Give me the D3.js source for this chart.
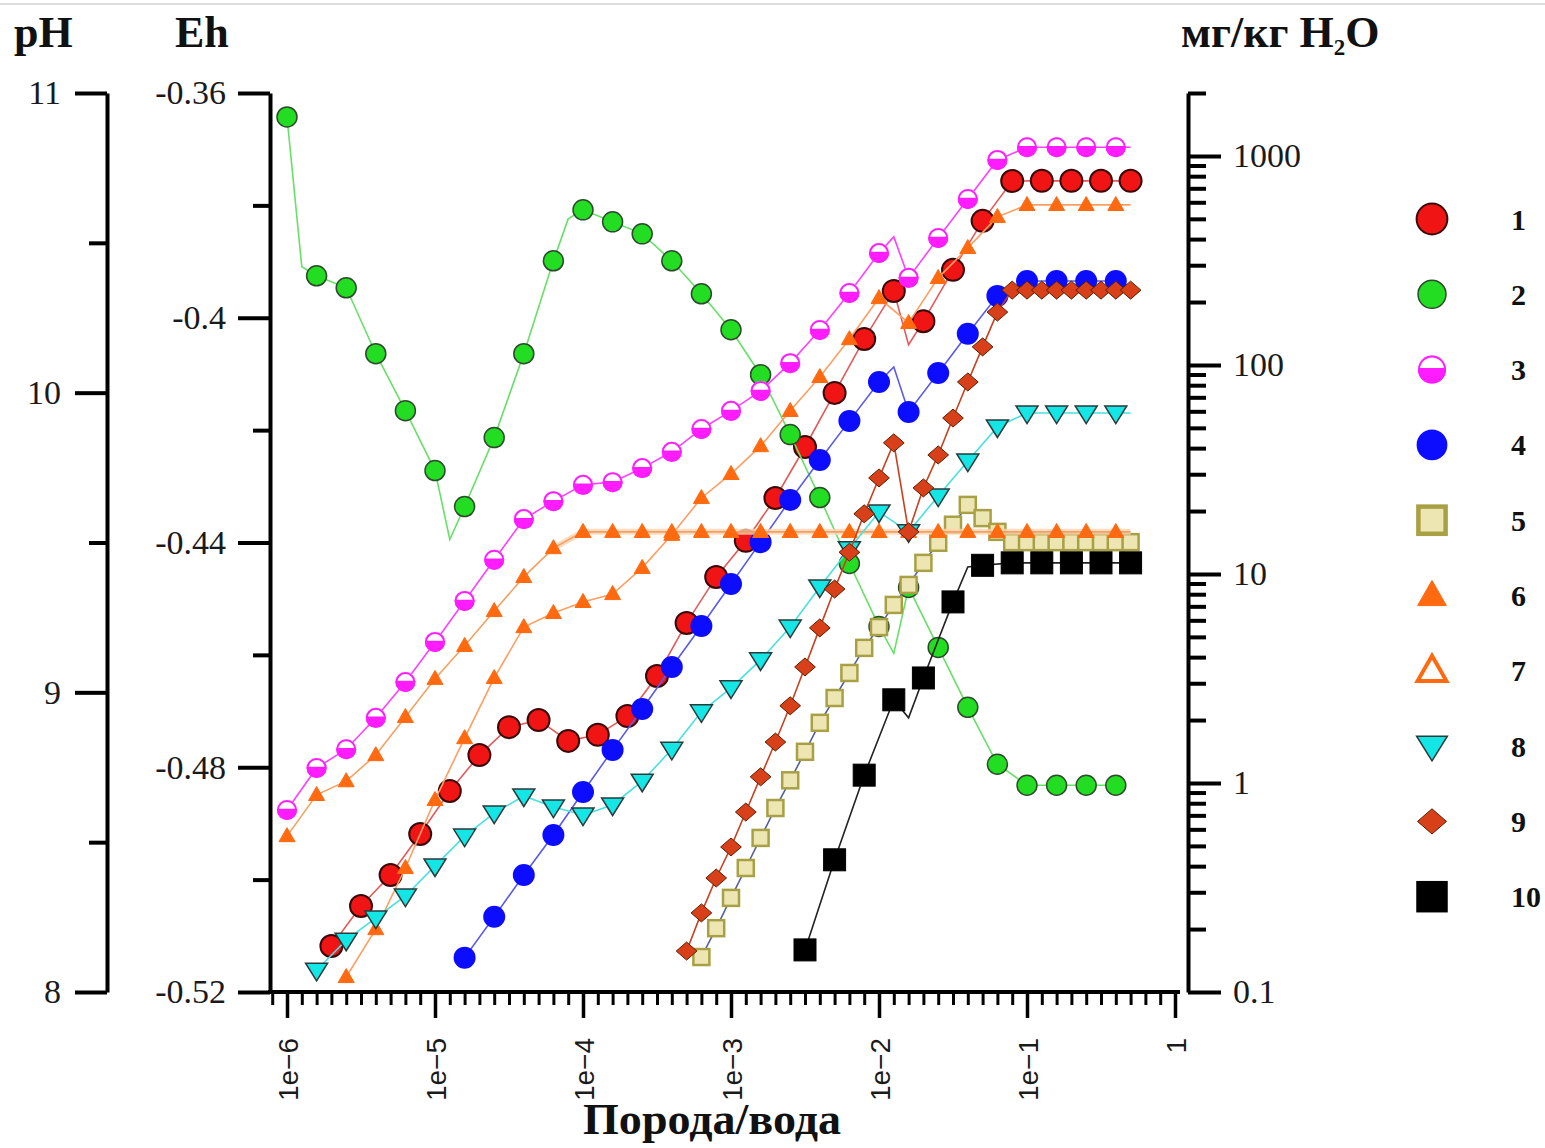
<!DOCTYPE html>
<html><head><meta charset="utf-8">
<script src="https://cdn.jsdelivr.net/npm/d3@7"></script>
<style>body{margin:0;background:#fff}</style>
</head><body>
<svg id="c" width="1545" height="1148"></svg>
<script>
// ---------- DATA (x given as log10 of Порода/вода ratio) ----------
const ratioTicks = [1e-6, 1e-5, 1e-4, 1e-3, 1e-2, 1e-1, 1];
const ratioTickLabels = ["1e\u22126", "1e\u22125", "1e\u22124", "1e\u22123", "1e\u22122", "1e\u22121", "1"];
const phTicks = [8, 9, 10, 11];
const phMinor = [8.5, 9.5, 10.5];
const ehTicks = [-0.52, -0.48, -0.44, -0.40, -0.36];
const ehMinor = [-0.50, -0.46, -0.42, -0.38];
const concTicks = [0.1, 1, 10, 100, 1000];
const concTickLabels = ["0.1", "1", "10", "100", "1000"];
const legendLabels = ["1", "2", "3", "4", "5", "6", "7", "8", "9", "10"];

// series 1 (mg/kg)
const s1 = [[-5.7,0.166],[-5.5,0.258],[-5.3,0.363],[-5.1,0.570],[-4.9,0.916],[-4.7,1.36],[-4.5,1.85],[-4.3,2.00],[-4.1,1.59],[-3.9,1.70],[-3.7,2.09],[-3.5,3.25],[-3.3,5.83],[-3.1,9.68],[-2.9,14.4],[-2.7,23.1],[-2.5,40.5],[-2.3,73.5],[-2.1,133],[-1.9,226],[-1.7,162],[-1.5,285],[-1.3,489],[-1.1,759],[-0.9,760],[-0.7,760],[-0.5,760],[-0.3,760]];
const s1Line = [[-1.8,125]];
// series 2 (pH)
const s2 = [[-6.0,10.92],[-5.8,10.39],[-5.6,10.35],[-5.4,10.13],[-5.2,9.94],[-5.0,9.74],[-4.8,9.62],[-4.6,9.85],[-4.4,10.13],[-4.2,10.44],[-4.0,10.61],[-3.8,10.57],[-3.6,10.53],[-3.4,10.44],[-3.2,10.33],[-3.0,10.21],[-2.8,10.06],[-2.6,9.86],[-2.4,9.65],[-2.2,9.43],[-2.0,9.22],[-1.8,9.35],[-1.6,9.15],[-1.4,8.95],[-1.2,8.76],[-1.0,8.69],[-0.8,8.69],[-0.6,8.69],[-0.4,8.69]];
const s2Line = [[-5.9,10.42],[-4.9,9.51],[-4.1,10.58],[-1.9,9.13]];
// series 3
const s3 = [[-6.0,0.743],[-5.8,1.18],[-5.6,1.45],[-5.4,2.05],[-5.2,3.04],[-5.0,4.73],[-4.8,7.43],[-4.6,11.7],[-4.4,18.3],[-4.2,22.3],[-4.0,26.7],[-3.8,27.5],[-3.6,32.1],[-3.4,38.4],[-3.2,49.4],[-3.0,60.3],[-2.8,75.1],[-2.6,102],[-2.4,147],[-2.2,221],[-2.0,343],[-1.8,261],[-1.6,405],[-1.4,622],[-1.2,957],[-1.0,1100],[-0.8,1100],[-0.6,1100],[-0.4,1100]];
const s3Line = [[-1.9,410],[-0.3,1100]];
// series 4
const s4 = [[-4.8,0.146],[-4.6,0.229],[-4.4,0.363],[-4.2,0.564],[-4.0,0.905],[-3.8,1.44],[-3.6,2.26],[-3.4,3.59],[-3.2,5.64],[-3.0,8.96],[-2.8,14.2],[-2.6,22.6],[-2.4,35.1],[-2.2,54.0],[-2.0,82.9],[-1.8,59.6],[-1.6,91.6],[-1.4,141],[-1.2,214],[-1.0,252],[-0.8,252],[-0.6,252],[-0.4,252]];
const s4Line = [[-1.9,97.8]];
// series 5
const s5 = [[-3.2,0.147],[-3.1,0.202],[-3.0,0.282],[-2.9,0.392],[-2.8,0.546],[-2.7,0.759],[-2.6,1.03],[-2.5,1.41],[-2.4,1.94],[-2.3,2.55],[-2.2,3.36],[-2.1,4.43],[-2.0,5.57],[-1.9,7.11],[-1.8,8.86],[-1.7,11.3],[-1.6,14.1],[-1.5,17.2],[-1.4,21.4],[-1.3,18.5],[-1.2,15.9],[-1.1,14.2],[-1.0,14.2],[-0.9,14.2],[-0.8,14.2],[-0.7,14.2],[-0.6,14.2],[-0.5,14.2],[-0.4,14.2],[-0.3,14.2]];
const s5Line = [];
// series 6
const s6 = [[-5.6,0.118],[-5.4,0.200],[-5.2,0.392],[-5.0,0.830],[-4.8,1.64],[-4.6,3.18],[-4.4,5.57],[-4.2,6.51],[-4.0,7.35],[-3.8,8.02],[-3.6,10.7],[-3.4,15.4],[-3.2,23.1],[-3.0,30.1],[-2.8,40.9],[-2.6,60.3],[-2.4,87.6],[-2.2,133],[-2.0,209],[-1.8,159],[-1.6,261],[-1.4,363],[-1.2,511],[-1.0,583],[-0.8,583],[-0.6,583],[-0.4,583]];
const s6Line = [[-0.3,583]];
// series 7
const s7 = [[-6.0,0.557],[-5.8,0.877],[-5.6,1.02],[-5.4,1.36],[-5.2,2.07],[-5.0,3.15],[-4.8,4.53],[-4.6,6.65],[-4.4,9.68],[-4.2,13.3],[-4.0,15.9],[-3.8,15.9],[-3.6,15.9],[-3.4,15.9],[-3.2,15.9],[-3.0,15.9],[-2.8,15.9],[-2.6,15.9],[-2.4,15.9],[-2.2,15.9],[-2.0,15.9],[-1.8,15.9],[-1.6,15.9],[-1.4,15.9],[-1.2,15.9],[-1.0,15.9],[-0.8,15.9],[-0.6,15.9],[-0.4,15.9]];
const s7Line = [[-0.3,15.9]];
// series 8
const s8 = [[-5.8,0.127],[-5.6,0.177],[-5.4,0.226],[-5.2,0.288],[-5.0,0.401],[-4.8,0.557],[-4.6,0.718],[-4.4,0.867],[-4.2,0.767],[-4.0,0.703],[-3.8,0.785],[-3.6,1.02],[-3.4,1.45],[-3.2,2.19],[-3.0,2.85],[-2.8,3.88],[-2.6,5.57],[-2.4,8.67],[-2.2,13.2],[-2.0,19.8],[-1.8,15.9],[-1.6,23.6],[-1.4,34.7],[-1.2,50.5],[-1.0,58.9],[-0.8,58.9],[-0.6,58.9],[-0.4,58.9]];
const s8Line = [[-0.3,58.9]];
// series 9
const s9 = [[-3.3,0.157],[-3.2,0.239],[-3.1,0.351],[-3.0,0.494],[-2.9,0.726],[-2.8,1.07],[-2.7,1.57],[-2.6,2.34],[-2.5,3.59],[-2.4,5.52],[-2.3,8.47],[-2.2,12.7],[-2.1,19.4],[-2.0,28.8],[-1.9,42.4],[-1.8,15.9],[-1.7,25.8],[-1.6,37.1],[-1.5,55.7],[-1.4,82.9],[-1.3,122],[-1.2,179],[-1.1,228],[-1.0,228],[-0.9,228],[-0.8,228],[-0.7,228],[-0.6,228],[-0.5,228],[-0.4,228],[-0.3,228]];
const s9Line = [];
// series 10
const s10 = [[-2.5,0.159],[-2.3,0.429],[-2.1,1.09],[-1.9,2.50],[-1.7,3.18],[-1.5,7.35],[-1.3,11.0],[-1.1,11.3],[-0.9,11.3],[-0.7,11.3],[-0.5,11.3],[-0.3,11.3]];
const s10Line = [[-1.8,2.05],[-1.4,10.8]];

// ---------- STYLE ----------
const series = [
  {pts:s1, extra:s1Line, axis:"c", type:"circle", size:11, fill:"#f01414", stroke:"#3a0a0a", sw:2, line:"#e45a5a"},
  {pts:s2, extra:s2Line, axis:"ph", type:"circle", size:10, fill:"#22dd22", stroke:"#2e4a2e", sw:1.5, line:"#66e066"},
  {pts:s3, extra:s3Line, axis:"c", type:"half", size:10, fill:"#ff1cff", stroke:"#ff1cff", sw:2, line:"#ff40ff"},
  {pts:s4, extra:s4Line, axis:"c", type:"circle", size:11, fill:"#0c0cff", stroke:"none", sw:0, line:"#5a5ae8"},
  {pts:s5, extra:s5Line, axis:"c", type:"square", size:8, fill:"#eee6b2", stroke:"#a8a044", sw:2.5, line:"#55609a"},
  {pts:s6, extra:s6Line, axis:"c", type:"tri", size:8, fill:"#ff6a10", stroke:"#ff6a10", sw:1, line:"#ff9e60"},
  {pts:s7, extra:s7Line, axis:"c", type:"tri", size:8, fill:"#ff6a10", stroke:"#ff6a10", sw:1, line:"#f5a060", bandFrom:-4.2},
  {pts:s8, extra:s8Line, axis:"c", type:"trid", size:11, fill:"#14e6e6", stroke:"#2a3a3a", sw:1.5, line:"#48e0e0"},
  {pts:s9, extra:s9Line, axis:"c", type:"diamond", size:9, fill:"#d8401a", stroke:"#5a2000", sw:1, line:"#c8401e"},
  {pts:s10, extra:s10Line, axis:"c", type:"square", size:11, fill:"#000", stroke:"#000", sw:1, line:"#222"}
];

const svg = d3.select("#c");
svg.append("line").attr("x1",0).attr("x2",1545).attr("y1",4).attr("y2",4).attr("stroke","#ddd").attr("stroke-width",2);

const x = d3.scaleLog().domain([1e-6, 1]).range([287, 1175]);
const yPH = d3.scaleLinear().domain([8, 11]).range([992, 93]);
const yEh = d3.scaleLinear().domain([-0.52, -0.36]).range([992, 93]);
const yC = d3.scaleLog().domain([0.1, 2000]).range([992, 93]);
const X = e => x(Math.pow(10, e));

const serif = "'Liberation Serif','Times New Roman',serif";
const sans = "'Liberation Sans',Arial,sans-serif";

function style(g, w, size, fam) {
  g.attr("font-family", fam).attr("font-size", size);
  g.select(".domain").attr("stroke", "#000").attr("stroke-width", 4);
  g.selectAll(".tick line").attr("stroke", "#000").attr("stroke-width", w);
  g.selectAll(".tick text").attr("fill", "#1a1a1a");
}

// pH axis
let g = svg.append("g").attr("transform", "translate(107,0)");
g.call(d3.axisLeft(yPH).tickValues(phMinor).tickSize(18).tickSizeOuter(0).tickFormat(""));
style(g, 4, 34, serif);
g = svg.append("g").attr("transform", "translate(107,0)");
g.call(d3.axisLeft(yPH).tickValues(phTicks).tickSize(32).tickSizeOuter(0).tickPadding(14).tickFormat(d => String(d)));
style(g, 4, 34, serif); g.select(".domain").remove();

// Eh axis
g = svg.append("g").attr("transform", "translate(270,0)");
g.call(d3.axisLeft(yEh).tickValues(ehMinor).tickSize(17).tickSizeOuter(0).tickFormat(""));
style(g, 4, 34, serif);
g = svg.append("g").attr("transform", "translate(270,0)");
g.call(d3.axisLeft(yEh).tickValues(ehTicks).tickSize(32).tickSizeOuter(0).tickPadding(12).tickFormat(d => String(+d.toFixed(2))));
style(g, 4, 34, serif); g.select(".domain").remove();

// right concentration axis
const concMinor = [];
[0.1, 1, 10, 100, 1000].forEach(b => { for (let m = 2; m <= 9; m++) { const v = b * m; if (v <= 2000) concMinor.push(v); } });
g = svg.append("g").attr("transform", "translate(1188,0)");
g.call(d3.axisRight(yC).tickValues(concMinor).tickSize(18).tickSizeOuter(0).tickFormat(""));
style(g, 4, 34, serif);
g = svg.append("g").attr("transform", "translate(1188,0)");
g.call(d3.axisRight(yC).tickValues(concTicks).tickSize(33).tickSizeOuter(0).tickPadding(12).tickFormat((d, i) => concTickLabels[i]));
style(g, 4, 34, serif); g.select(".domain").remove();

// bottom x axis
const xMinor = d3.range(-61, 1).map(i => Math.pow(10, i / 10));
g = svg.append("g").attr("transform", "translate(0,992)");
g.call(d3.axisBottom(x).tickValues(xMinor).tickSize(13).tickSizeOuter(0).tickFormat(""));
style(g, 3, 28, sans); g.select(".domain").remove();
g = svg.append("g").attr("transform", "translate(0,992)");
g.call(d3.axisBottom(x).tickValues(ratioTicks).tickSize(26).tickSizeOuter(0).tickFormat((d, i) => ratioTickLabels[i]));
style(g, 3.5, 28, sans); g.select(".domain").remove();
g.selectAll(".tick text").attr("transform", "rotate(-90)").attr("x", -46).attr("y", 0).attr("dy", "0.36em").attr("text-anchor", "end");
svg.append("line").attr("x1", 268).attr("x2", 1180).attr("y1", 992).attr("y2", 992).attr("stroke", "#000").attr("stroke-width", 4);

// titles
svg.append("text").attr("x", 14).attr("y", 47).attr("font-family", serif).attr("font-weight", "bold").attr("font-size", 44).attr("fill", "#111").text("pH");
svg.append("text").attr("x", 175).attr("y", 47).attr("font-family", serif).attr("font-weight", "bold").attr("font-size", 44).attr("fill", "#111").text("Eh");
const t = svg.append("text").attr("x", 1181).attr("y", 47).attr("font-family", serif).attr("font-weight", "bold").attr("font-size", 44).attr("fill", "#111");
t.append("tspan").text("мг/кг H");
t.append("tspan").attr("font-size", 23).attr("dy", 8).text("2");
t.append("tspan").attr("dy", -8).text("O");
svg.append("text").attr("x", 712).attr("y", 1134).attr("text-anchor", "middle").attr("font-family", serif).attr("font-weight", "bold").attr("font-size", 44).attr("fill", "#111").attr("textLength", 258).attr("lengthAdjust", "spacingAndGlyphs").text("Порода/вода");

// markers
function drawMarker(sel, s, k, legendOpen) {
  const r = s.size * k;
  if (s.type === "circle") {
    sel.append("circle").attr("r", r).attr("fill", s.fill).attr("stroke", s.stroke).attr("stroke-width", s.sw);
  } else if (s.type === "half") {
    sel.append("circle").attr("r", r).attr("fill", s.fill);
    const c = -0.12 * r, a = Math.sqrt(r * r - c * c);
    sel.append("path").attr("d", `M${-a},${c}A${r},${r} 0 0 1 ${a},${c}Z`).attr("fill", "#fff");
    sel.append("circle").attr("r", r - 1).attr("fill", "none").attr("stroke", s.stroke).attr("stroke-width", s.sw);
  } else if (s.type === "square") {
    sel.append("rect").attr("x", -r).attr("y", -r).attr("width", 2 * r).attr("height", 2 * r).attr("fill", s.fill).attr("stroke", s.stroke).attr("stroke-width", s.sw * (k > 1 ? 1.8 : 1));
  } else if (s.type === "tri") {
    const h = r * 1.75;
    sel.append("path").attr("d", `M0,${-h * 0.6}L${r},${h * 0.4}L${-r},${h * 0.4}Z`)
      .attr("fill", legendOpen ? "#fff" : s.fill).attr("stroke", s.stroke).attr("stroke-width", legendOpen ? 4 : s.sw).attr("stroke-linejoin", "miter");
  } else if (s.type === "trid") {
    const h = r * 1.6;
    sel.append("path").attr("d", `M0,${h * 0.6}L${r},${-h * 0.4}L${-r},${-h * 0.4}Z`).attr("fill", s.fill).attr("stroke", s.stroke).attr("stroke-width", s.sw);
  } else if (s.type === "diamond") {
    sel.append("path").attr("d", `M0,${-r}L${r * 1.15},0L0,${r}L${-r * 1.15},0Z`).attr("fill", s.fill).attr("stroke", s.stroke).attr("stroke-width", s.sw);
  }
}

const plot = svg.append("g");
series.forEach(s => {
  const yS = s.axis === "ph" ? yPH : yC;
  const all = s.pts.concat(s.extra).slice().sort((a, b) => a[0] - b[0]);
  const line = d3.line().x(d => X(d[0])).y(d => yS(d[1]));
  if (s.bandFrom !== undefined) plot.append("path").attr("d", line(all.filter(d => d[0] >= s.bandFrom))).attr("fill", "none").attr("stroke", "#fbd3b0").attr("stroke-width", 6).attr("opacity", 0.8);
  plot.append("path").attr("d", line(all)).attr("fill", "none").attr("stroke", s.line).attr("stroke-width", 1.6);
  s.pts.forEach(p => {
    const m = plot.append("g").attr("transform", `translate(${X(p[0])},${yS(p[1])})`);
    drawMarker(m, s, 1, false);
  });
});

// legend
series.forEach((s, i) => {
  const yy = 219 + 75.3 * i;
  const m = svg.append("g").attr("transform", `translate(1432,${yy})`);
  const k = s.type === "circle" || s.type === "half" ? 1.4 : (s.type === "tri" ? 1.8 : (s.type === "square" ? (s.size < 10 ? 1.7 : 1.35) : 1.4));
  drawMarker(m, s, k, i === 6);
  svg.append("text").attr("x", 1511).attr("y", yy).attr("dy", "0.35em").attr("font-family", serif).attr("font-weight", "bold").attr("font-size", 30).attr("fill", "#111").text(legendLabels[i]);
});
</script>
</body></html>
